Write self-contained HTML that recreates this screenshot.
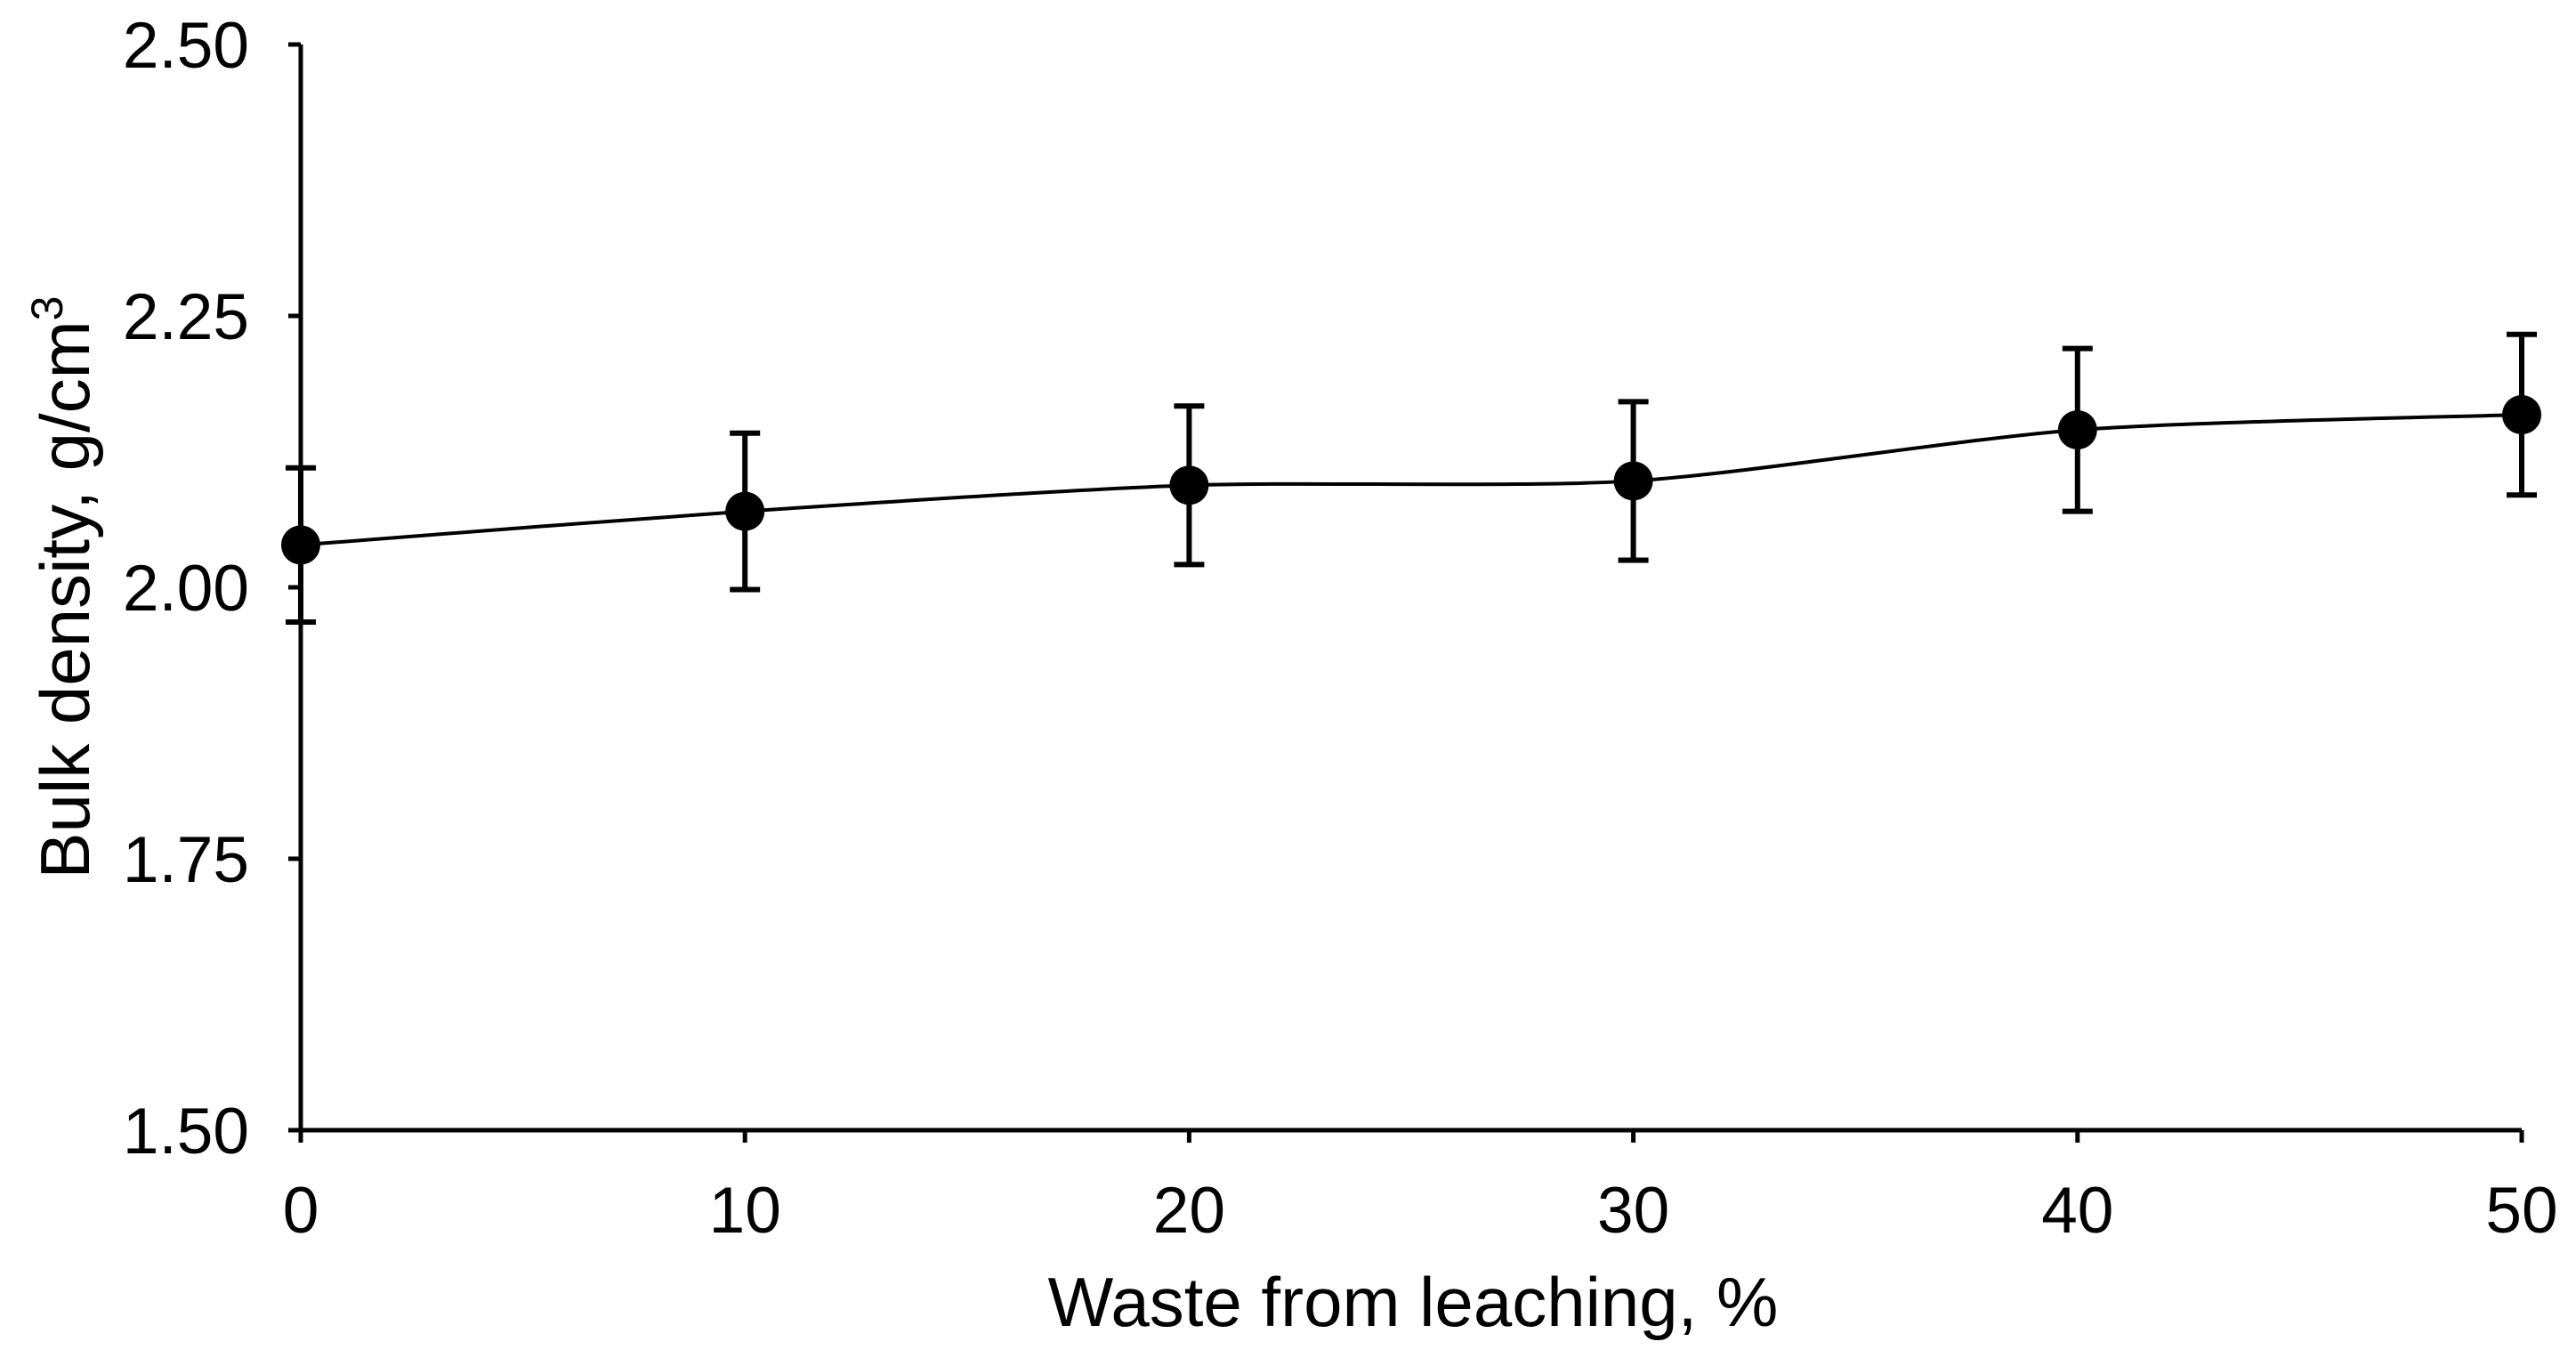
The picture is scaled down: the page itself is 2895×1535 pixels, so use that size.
<!DOCTYPE html>
<html><head><meta charset="utf-8"><style>
html,body{margin:0;padding:0;background:#fff;}
svg{display:block;}
text{font-family:"Liberation Sans",Arial,sans-serif;fill:#000;}
</style></head><body>
<svg id="chart" width="2895" height="1535" viewBox="0 0 2895 1535">
<g id="axes"></g>
<g id="series"></g>
<text x="1588" y="1490" font-size="78" text-anchor="middle">Waste from leaching, %</text>
<text transform="translate(100,660) rotate(-90)" font-size="78" text-anchor="middle">Bulk density, g/cm<tspan font-size="50" dy="-30">3</tspan></text>
</svg>
<script>
const categories = [0, 10, 20, 30, 40, 50];
const values = [2.039, 2.070, 2.094, 2.098, 2.145, 2.159];
const errors = [0.071, 0.072, 0.073, 0.073, 0.075, 0.074];
const xTicks = [0, 10, 20, 30, 40, 50];
const yTicks = [1.50, 1.75, 2.00, 2.25, 2.50];

const NS = "http://www.w3.org/2000/svg";
const X0 = 338, X1 = 2834, Y0 = 1270, Y1 = 50;
function xs(v){ return X0 + (v - 0) / 50 * (X1 - X0); }
function ys(v){ return Y0 - (v - 1.5) / 1.0 * (Y0 - Y1); }
function mk(tag, attrs, parent){
  const e = document.createElementNS(NS, tag);
  for (const k in attrs) e.setAttribute(k, attrs[k]);
  parent.appendChild(e); return e;
}
const axes = document.getElementById('axes');
const series = document.getElementById('series');

const ya = mk('line', {x1:X0, y1:Y1, x2:X0, y2:Y0, stroke:'#000', 'stroke-width':5}, axes);


const xa = mk('line', {x1:X0, y1:Y0, x2:X1, y2:Y0, stroke:'#000', 'stroke-width':5}, axes);



yTicks.forEach(t => {
  const y = ys(t);
  const tk = mk('line', {x1:X0-14, y1:y, x2:X0, y2:y, stroke:'#000', 'stroke-width':5}, axes);
  
  
  const lb = mk('text', {x:280, y:y+26, 'font-size':73, 'text-anchor':'end'}, axes);
  lb.textContent = t.toFixed(2);
  
  
});
xTicks.forEach(t => {
  const x = xs(t);
  const tk = mk('line', {x1:x, y1:Y0, x2:x, y2:Y0+14, stroke:'#000', 'stroke-width':5}, axes);
  
  
  const lb = mk('text', {x:x, y:1385, 'font-size':73, 'text-anchor':'middle'}, axes);
  lb.textContent = String(t);
  
  
});

const pts = categories.map((c,i) => [xs(c), ys(values[i])]);
let d = 'M' + pts[0][0] + ',' + pts[0][1];
for (let i = 0; i < pts.length - 1; i++) {
  const p0 = pts[Math.max(i-1,0)], p1 = pts[i], p2 = pts[i+1], p3 = pts[Math.min(i+2,pts.length-1)];
  const t = 1/8;
  const c1 = [p1[0] + (p2[0]-p0[0])*t, p1[1] + (p2[1]-p0[1])*t];
  const c2 = [p2[0] - (p3[0]-p1[0])*t, p2[1] - (p3[1]-p1[1])*t];
  d += ' C' + c1[0] + ',' + c1[1] + ' ' + c2[0] + ',' + c2[1] + ' ' + p2[0] + ',' + p2[1];
}
const ln = mk('path', {d:d, fill:'none', stroke:'#000', 'stroke-width':4}, series);



categories.forEach((c,i) => {
  const x = xs(c), yt = ys(values[i] + errors[i]), yb = ys(values[i] - errors[i]);
  const eb = mk('path', {d:`M${x},${yt} L${x},${yb} M${x-17},${yt} L${x+17},${yt} M${x-17},${yb} L${x+17},${yb}`, fill:'none', stroke:'#000', 'stroke-width':6}, series);
  
  
  const pt = mk('circle', {cx:x, cy:ys(values[i]), r:22, fill:'#000'}, series);
  
  
});
</script>
</body></html>
